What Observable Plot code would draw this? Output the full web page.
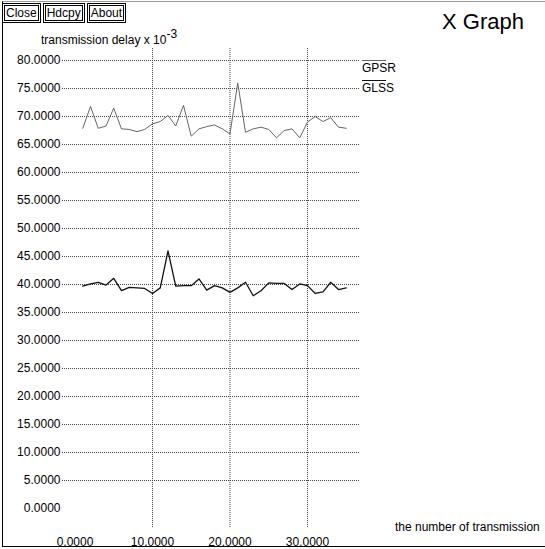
<!DOCTYPE html>
<html>
<head>
<meta charset="utf-8">
<script src="https://cdn.jsdelivr.net/npm/d3@7"></script>
<script src="https://cdn.jsdelivr.net/npm/@observablehq/plot@0.6"></script>
<style>
  html, body { margin: 0; padding: 0; background: #fff; }
  #wrap { position: relative; width: 545px; height: 549px; overflow: hidden;
          font-family: "Liberation Sans", Arial, Helvetica, sans-serif; color: #000; }
  #wrap svg { position: absolute; left: 0; top: 0; }
  .btns { position: absolute; left: 2px; top: 3px; display: flex; gap: 2px; z-index: 2; }
  .btn { border: 3px double #000; font-size: 12px; line-height: 14px; padding: 0 1px; background: #fff; }
  .title { position: absolute; left: 442px; top: 9px; font-size: 22px; z-index: 2; }
  .sub { position: absolute; left: 41px; top: 28px; font-size: 12px; z-index: 2; white-space: nowrap; }
  .sub sup { font-size: 12px; position: relative; top: -1px; }
  .legend { position: absolute; left: 362px; z-index: 2; font-size: 12px; line-height: 12px; }
  .legend div { padding-top: 1px; width: 24px; }
  .xlab { position: absolute; left: 395px; top: 520px; font-size: 12px; white-space: nowrap; z-index: 2; }
  .frame { position: absolute; left: 2px; top: 1px; width: 560px; height: 544px;
           border-left: 1px solid #000; border-bottom: 1px solid #000; border-top: 1px solid #999; z-index: 1; pointer-events: none; }
</style>
</head>
<body>
<div id="wrap">
  <div class="frame"></div>
  <div class="btns"><span class="btn">Close</span><span class="btn">Hdcpy</span><span class="btn">About</span></div>
  <div class="title">X Graph</div>
  <div class="sub">transmission delay x 10<sup>-3</sup></div>
  <div class="xlab">the number of transmission</div>
</div>
<script>
// ---- data ----
const transmissions = [1,2,3,4,5,6,7,8,9,10,11,12,13,14,15,16,17,18,19,20,21,22,23,24,25,26,27,28,29,30,31,32,33,34,35];
const gpsr = [67.9,71.8,67.9,68.3,71.5,67.8,67.7,67.3,67.7,68.7,69.1,70.2,68.3,72.0,66.5,67.8,68.2,68.5,67.8,66.9,76.0,67.2,67.8,68.1,67.7,66.2,67.5,67.8,66.2,69.0,70.0,69.1,69.8,68.1,67.9];
const glss = [39.7,40.1,40.4,39.9,41.1,38.9,39.5,39.4,39.3,38.4,39.4,46.0,39.7,39.8,39.8,41.0,39.0,39.8,39.4,38.6,39.4,40.4,38.0,38.9,40.3,40.2,40.2,39.1,40.1,39.8,38.4,38.7,40.4,39.1,39.4];
const seriesNames = ["GPSR", "GLSS"];
const seriesColors = ["#666", "#111"];
const yTicks = [0,5,10,15,20,25,30,35,40,45,50,55,60,65,70,75,80];
const yGrid = [5,10,15,20,25,30,35,40,45,50,55,60,65,70,75,80];
const xTicks = [0,10,20,30];

const rows = transmissions.map((t, i) => ({x: t, y: gpsr[i], s: seriesNames[0]}));
const rows2 = transmissions.map((t, i) => ({x: t, y: glss[i], s: seriesNames[1]}));

const fmt = d3.format(".4f");
const chart = Plot.plot({
  width: 545,
  height: 549,
  marginLeft: 62,
  marginRight: 185,
  marginTop: 48,
  marginBottom: 21,
  style: {fontFamily: "'Liberation Sans', Arial, Helvetica, sans-serif", background: "transparent", color: "#000"},
  x: {domain: [-1.613, 36.84]},
  y: {domain: [-3.57, 82.15]},
  marks: [
    Plot.ruleY(yGrid, {stroke: "#444", strokeDasharray: "1,1", strokeWidth: 1}),
    Plot.ruleX(xTicks.filter(d => d !== 0), {stroke: "#444", strokeDasharray: "1,1", strokeWidth: 1}),
    Plot.axisY({ticks: yTicks, tickFormat: fmt, tickSize: 0, tickPadding: 2, fontSize: 12, label: null}),
    Plot.axisX({ticks: xTicks, tickFormat: fmt, tickSize: 0, tickPadding: 9, fontSize: 12, label: null}),
    Plot.line(rows, {x: "x", y: "y", stroke: seriesColors[0], strokeWidth: 1}),
    Plot.line(rows2, {x: "x", y: "y", stroke: seriesColors[1], strokeWidth: 1.3})
  ]
});
const wrap = document.getElementById("wrap");
wrap.insertBefore(chart, wrap.firstChild);

// legend built from the series names
const legendTops = [60, 80];
seriesNames.forEach((name, i) => {
  const d = document.createElement("div");
  d.className = "legend";
  d.style.top = legendTops[i] + "px";
  const inner = document.createElement("div");
  inner.style.borderTop = (i === 0 ? "1px solid " : "1.5px solid ") + seriesColors[i];
  inner.textContent = name;
  d.appendChild(inner);
  wrap.appendChild(d);
});
</script>
</body>
</html>
